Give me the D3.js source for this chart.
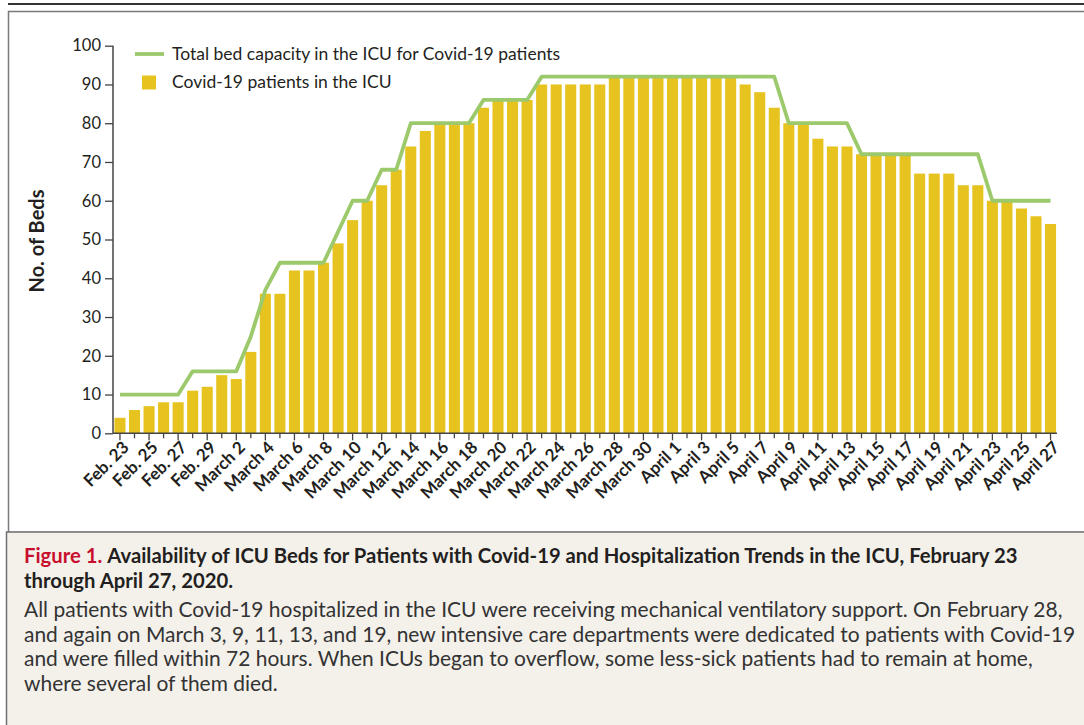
<!DOCTYPE html>
<html>
<head>
<meta charset="utf-8">
<script src="https://cdn.jsdelivr.net/npm/d3@7"></script>
<style>
  html, body { margin: 0; padding: 0; background: #fff; }
  svg { display: block; }
</style>
</head>
<body>
<div id="chart"></div>
<script>
// day labels, Feb 23 to April 27, 2020
let days = [
  "Feb. 23","Feb. 24","Feb. 25","Feb. 26","Feb. 27","Feb. 28","Feb. 29",
  "March 1","March 2","March 3","March 4","March 5","March 6","March 7","March 8","March 9","March 10",
  "March 11","March 12","March 13","March 14","March 15","March 16","March 17","March 18","March 19","March 20",
  "March 21","March 22","March 23","March 24","March 25","March 26","March 27","March 28","March 29","March 30","March 31",
  "April 1","April 2","April 3","April 4","April 5","April 6","April 7","April 8","April 9","April 10",
  "April 11","April 12","April 13","April 14","April 15","April 16","April 17","April 18","April 19","April 20",
  "April 21","April 22","April 23","April 24","April 25","April 26","April 27"
];

// Covid-19 patients in the ICU
let patients = [
  4, 6, 7, 8, 8, 11, 12,
  15, 14, 21, 36, 36, 42, 42, 44, 49, 55,
  60, 64, 68, 74, 78, 80, 80, 80, 84, 86,
  86, 86, 90, 90, 90, 90, 90, 92, 92, 92, 92,
  92, 92, 92, 92, 92, 90, 88, 84, 80, 80,
  76, 74, 74, 72, 72, 72, 72, 67, 67, 67,
  64, 64, 60, 60, 58, 56, 54
];

// total bed capacity in the ICU
let capacity = [
  10, 10, 10, 10, 10, 16, 16,
  16, 16, 25, 37, 44, 44, 44, 44, 52, 60,
  60, 68, 68, 80, 80, 80, 80, 80, 86, 86,
  86, 86, 92, 92, 92, 92, 92, 92, 92, 92, 92,
  92, 92, 92, 92, 92, 92, 92, 92, 80, 80,
  80, 80, 80, 72, 72, 72, 72, 72, 72, 72,
  72, 72, 60, 60, 60, 60, 60
];

let yTicks = [0, 10, 20, 30, 40, 50, 60, 70, 80, 90, 100];

let legendLabels = ["Total bed capacity in the ICU for Covid-19 patients", "Covid-19 patients in the ICU"];

let captionTitle = ["Availability of ICU Beds for Patients with Covid-19 and Hospitalization Trends in the ICU, February 23",
                    "through April 27, 2020."];
let captionBody = [
  "All patients with Covid-19 hospitalized in the ICU were receiving mechanical ventilatory support. On February 28,",
  "and again on March 3, 9, 11, 13, and 19, new intensive care departments were dedicated to patients with Covid-19",
  "and were filled within 72 hours. When ICUs began to overflow, some less-sick patients had to remain at home,",
  "where several of them died."
];

let svgWidth = 1084;
let svgHeight = 725;
let barColor = "#e6c31e";
let lineColor = "#9cc96b";
let textColor = "#231f20";
let chartFont = "Lato, 'Open Sans', sans-serif";

let svg = d3.select("#chart").append("svg")
  .attr("width", svgWidth)
  .attr("height", svgHeight);

// frame
svg.append("line")
  .attr("x1", 8).attr("x2", svgWidth).attr("y1", 4).attr("y2", 4)
  .attr("stroke", "#333").attr("stroke-width", 2);
svg.append("rect")
  .attr("x", 8.5).attr("y", 11.5).attr("width", svgWidth).attr("height", 521)
  .attr("fill", "#fff").attr("stroke", "#7a7a7a").attr("stroke-width", 1.5);
svg.append("rect")
  .attr("x", 6.5).attr("y", 532).attr("width", svgWidth).attr("height", 200)
  .attr("fill", "#f4f1eb").attr("stroke", "#6f6f6f").attr("stroke-width", 1.5);

// scales
let xScale = d3.scaleBand()
  .domain(days)
  .range([112.7, 1057.8])
  .paddingInner(0.24)
  .paddingOuter(0.12);

let yScale = d3.scaleLinear()
  .domain([0, 100])
  .range([433.3, 45.7]);

let chartGroup = svg.append("g");

// bars
chartGroup.selectAll("rect.bar")
  .data(days)
  .enter()
  .append("rect")
  .attr("class", "bar")
  .attr("x", function(d) { return xScale(d); })
  .attr("y", function(d, i) { return yScale(patients[i]); })
  .attr("width", xScale.bandwidth())
  .attr("height", function(d, i) { return yScale(0) - yScale(patients[i]); })
  .attr("fill", barColor);

// capacity line
let line = d3.line()
  .x(function(d, i) { return xScale(days[i]) + xScale.bandwidth() / 2; })
  .y(function(d) { return yScale(d); });

chartGroup.append("path")
  .datum(capacity)
  .attr("d", line)
  .attr("fill", "none")
  .attr("stroke", lineColor)
  .attr("stroke-width", 3.8)
  .attr("stroke-linejoin", "round");

// y axis
let yAxis = d3.axisLeft(yScale)
  .tickValues(yTicks)
  .tickSize(8)
  .tickPadding(4);

let yAxisGroup = svg.append("g")
  .attr("transform", "translate(113,0)")
  .call(yAxis);
yAxisGroup.select(".domain").attr("stroke", "#444").attr("stroke-width", 1.5)
  .attr("d", "M0," + yScale(100) + "V" + yScale(0));
yAxisGroup.selectAll(".tick line").attr("stroke", "#444").attr("stroke-width", 1.3);
yAxisGroup.selectAll(".tick text")
  .attr("fill", textColor)
  .style("font-family", chartFont)
  .style("font-size", "16.5px");

// x axis
let xAxis = d3.axisBottom(xScale)
  .tickSize(5)
  .tickFormat("");

let xAxisGroup = svg.append("g")
  .attr("transform", "translate(0," + yScale(0) + ")")
  .call(xAxis);
xAxisGroup.select(".domain").attr("stroke", "#444").attr("stroke-width", 1.5)
  .attr("d", "M113,0H1057");
xAxisGroup.selectAll(".tick line")
  .attr("stroke", "#444").attr("stroke-width", 1.3)
  .attr("y2", function(d, i) { return i % 2 === 0 ? 7 : 5; });

xAxisGroup.selectAll(".tick")
  .filter(function(d, i) { return i % 2 === 0; })
  .append("text")
  .attr("transform", "translate(0,4) rotate(-45)")
  .attr("x", -1)
  .attr("y", 15)
  .attr("text-anchor", "end")
  .attr("fill", textColor)
  .style("font-family", chartFont)
  .style("font-weight", "bold")
  .style("font-size", "17px")
  .text(function(d) { return d; });

// y axis title
svg.append("text")
  .attr("transform", "translate(44,241) rotate(-90)")
  .attr("text-anchor", "middle")
  .attr("fill", textColor)
  .style("font-family", chartFont)
  .style("font-weight", "bold")
  .style("font-size", "20px")
  .text("No. of Beds");

// legend
let legend = svg.append("g");
legend.append("line")
  .attr("x1", 135).attr("x2", 164).attr("y1", 54).attr("y2", 54)
  .attr("stroke", lineColor).attr("stroke-width", 3.8);
legend.append("rect")
  .attr("x", 142).attr("y", 75.5).attr("width", 14).attr("height", 14)
  .attr("fill", barColor);
legend.selectAll("text")
  .data(legendLabels)
  .enter()
  .append("text")
  .attr("x", 172)
  .attr("y", function(d, i) { return 54 + i * 28; })
  .attr("dy", "0.35em")
  .attr("fill", textColor)
  .style("font-family", chartFont)
  .style("font-size", "17.5px")
  .text(function(d) { return d; });

// caption: narrow face imitated by squeezing each block to the reference width
let capTitle = svg.append("g").style("font-family", chartFont);
let t1 = capTitle.append("text")
  .attr("x", 0).attr("y", 563)
  .style("font-size", "20px")
  .style("font-weight", "bold")
  .attr("fill", textColor);
t1.append("tspan").attr("fill", "#c8102e").text("Figure 1. ");
t1.append("tspan").text(captionTitle[0]);
capTitle.append("text")
  .attr("x", 0).attr("y", 588)
  .style("font-size", "20px")
  .style("font-weight", "bold")
  .attr("fill", textColor)
  .text(captionTitle[1]);
let kTitle = 994 / t1.node().getComputedTextLength();
capTitle.attr("transform", "translate(24,0) scale(" + kTitle + ",1)");

let capBody = svg.append("g").style("font-family", chartFont);
capBody.selectAll("text")
  .data(captionBody)
  .enter()
  .append("text")
  .attr("x", 0)
  .attr("y", function(d, i) { return 617 + i * 24.7; })
  .style("font-size", "20.5px")
  .attr("fill", "#333")
  .text(function(d) { return d; });
let kBody = 1039 / capBody.select("text").node().getComputedTextLength();
capBody.attr("transform", "translate(24,0) scale(" + kBody + ",1)");
</script>
</body>
</html>
